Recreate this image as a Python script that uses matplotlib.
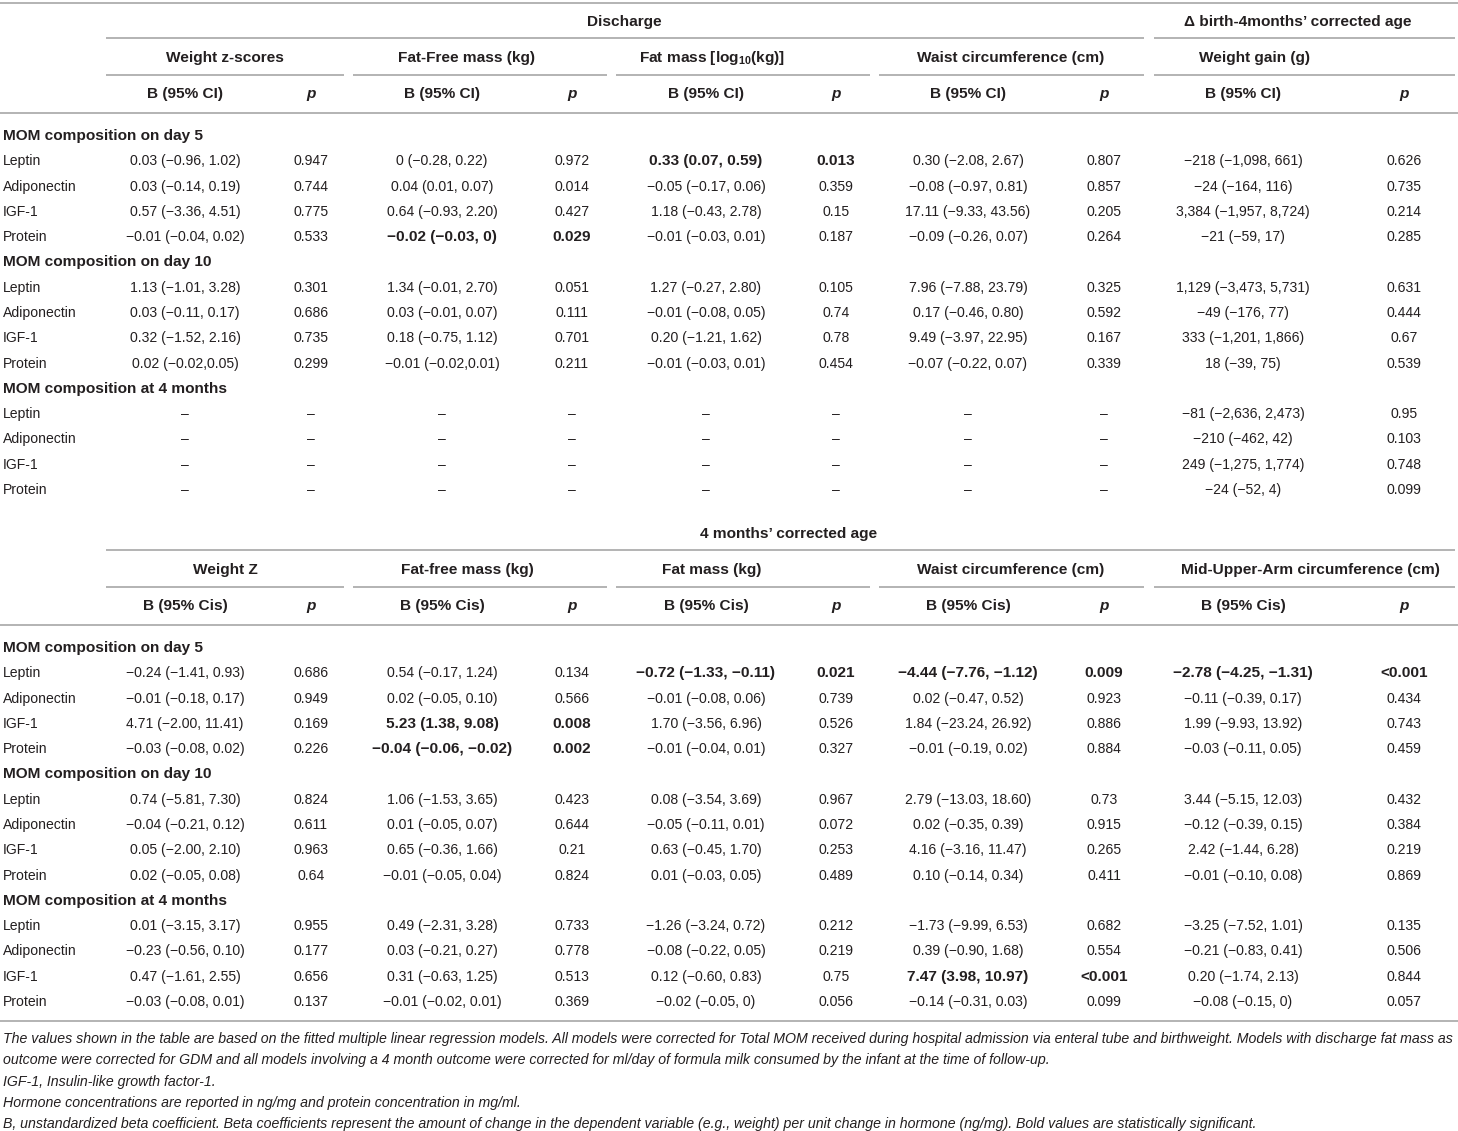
import matplotlib.pyplot as plt

plt.rcParams['font.family'] = ['Liberation Sans', 'DejaVu Sans']
plt.rcParams['mathtext.fontset'] = 'custom'
plt.rcParams['mathtext.rm'] = 'Liberation Sans:bold'
plt.rcParams['mathtext.it'] = 'Liberation Sans:bold:italic'
plt.rcParams['mathtext.bf'] = 'Liberation Sans:bold'

TXT = '#231f20'
RULE = '#b3b3b3'
FS = 10.1      # regular cells
FSB = 11.1     # bold headers / bold cells

# ---------------- data ----------------
markers = ["Leptin", "Adiponectin", "IGF-1", "Protein"]
sections = ["MOM composition on day 5", "MOM composition on day 10",
            "MOM composition at 4 months"]

top_group = ["Discharge", "\u0394 birth-4months\u2019 corrected age"]
top_outcomes = ["Weight z-scores", "Fat-Free mass (kg)",
                r"Fat mass [log$_{\mathrm{10}}$(kg)]",
                "Waist circumference (cm)", "Weight gain (g)"]
bot_group = ["4 months\u2019 corrected age"]
bot_outcomes = ["Weight Z", "Fat-free mass (kg)", "Fat mass (kg)",
                "Waist circumference (cm)", "Mid-Upper-Arm circumference (cm)"]

D = "\u2013"
# discharge / delta outcomes (12 rows: day5, day10, 4 months)
top_b = [
    ["0.03 (\u22120.96, 1.02)", "0.03 (\u22120.14, 0.19)", "0.57 (\u22123.36, 4.51)", "\u22120.01 (\u22120.04, 0.02)",
     "1.13 (\u22121.01, 3.28)", "0.03 (\u22120.11, 0.17)", "0.32 (\u22121.52, 2.16)", "0.02 (\u22120.02,0.05)",
     D, D, D, D],
    ["0 (\u22120.28, 0.22)", "0.04 (0.01, 0.07)", "0.64 (\u22120.93, 2.20)", "\u22120.02 (\u22120.03, 0)",
     "1.34 (\u22120.01, 2.70)", "0.03 (\u22120.01, 0.07)", "0.18 (\u22120.75, 1.12)", "\u22120.01 (\u22120.02,0.01)",
     D, D, D, D],
    ["0.33 (0.07, 0.59)", "\u22120.05 (\u22120.17, 0.06)", "1.18 (\u22120.43, 2.78)", "\u22120.01 (\u22120.03, 0.01)",
     "1.27 (\u22120.27, 2.80)", "\u22120.01 (\u22120.08, 0.05)", "0.20 (\u22121.21, 1.62)", "\u22120.01 (\u22120.03, 0.01)",
     D, D, D, D],
    ["0.30 (\u22122.08, 2.67)", "\u22120.08 (\u22120.97, 0.81)", "17.11 (\u22129.33, 43.56)", "\u22120.09 (\u22120.26, 0.07)",
     "7.96 (\u22127.88, 23.79)", "0.17 (\u22120.46, 0.80)", "9.49 (\u22123.97, 22.95)", "\u22120.07 (\u22120.22, 0.07)",
     D, D, D, D],
    ["\u2212218 (\u22121,098, 661)", "\u221224 (\u2212164, 116)", "3,384 (\u22121,957, 8,724)", "\u221221 (\u221259, 17)",
     "1,129 (\u22123,473, 5,731)", "\u221249 (\u2212176, 77)", "333 (\u22121,201, 1,866)", "18 (\u221239, 75)",
     "\u221281 (\u22122,636, 2,473)", "\u2212210 (\u2212462, 42)", "249 (\u22121,275, 1,774)", "\u221224 (\u221252, 4)"],
]
top_p = [
    ["0.947", "0.744", "0.775", "0.533", "0.301", "0.686", "0.735", "0.299", D, D, D, D],
    ["0.972", "0.014", "0.427", "0.029", "0.051", "0.111", "0.701", "0.211", D, D, D, D],
    ["0.013", "0.359", "0.15", "0.187", "0.105", "0.74", "0.78", "0.454", D, D, D, D],
    ["0.807", "0.857", "0.205", "0.264", "0.325", "0.592", "0.167", "0.339", D, D, D, D],
    ["0.626", "0.735", "0.214", "0.285", "0.631", "0.444", "0.67", "0.539", "0.95", "0.103", "0.748", "0.099"],
]
top_bold = [(1, 3), (2, 0)]  # (outcome, row)

# 4 months' corrected age outcomes
bot_b = [
    ["\u22120.24 (\u22121.41, 0.93)", "\u22120.01 (\u22120.18, 0.17)", "4.71 (\u22122.00, 11.41)", "\u22120.03 (\u22120.08, 0.02)",
     "0.74 (\u22125.81, 7.30)", "\u22120.04 (\u22120.21, 0.12)", "0.05 (\u22122.00, 2.10)", "0.02 (\u22120.05, 0.08)",
     "0.01 (\u22123.15, 3.17)", "\u22120.23 (\u22120.56, 0.10)", "0.47 (\u22121.61, 2.55)", "\u22120.03 (\u22120.08, 0.01)"],
    ["0.54 (\u22120.17, 1.24)", "0.02 (\u22120.05, 0.10)", "5.23 (1.38, 9.08)", "\u22120.04 (\u22120.06, \u22120.02)",
     "1.06 (\u22121.53, 3.65)", "0.01 (\u22120.05, 0.07)", "0.65 (\u22120.36, 1.66)", "\u22120.01 (\u22120.05, 0.04)",
     "0.49 (\u22122.31, 3.28)", "0.03 (\u22120.21, 0.27)", "0.31 (\u22120.63, 1.25)", "\u22120.01 (\u22120.02, 0.01)"],
    ["\u22120.72 (\u22121.33, \u22120.11)", "\u22120.01 (\u22120.08, 0.06)", "1.70 (\u22123.56, 6.96)", "\u22120.01 (\u22120.04, 0.01)",
     "0.08 (\u22123.54, 3.69)", "\u22120.05 (\u22120.11, 0.01)", "0.63 (\u22120.45, 1.70)", "0.01 (\u22120.03, 0.05)",
     "\u22121.26 (\u22123.24, 0.72)", "\u22120.08 (\u22120.22, 0.05)", "0.12 (\u22120.60, 0.83)", "\u22120.02 (\u22120.05, 0)"],
    ["\u22124.44 (\u22127.76, \u22121.12)", "0.02 (\u22120.47, 0.52)", "1.84 (\u221223.24, 26.92)", "\u22120.01 (\u22120.19, 0.02)",
     "2.79 (\u221213.03, 18.60)", "0.02 (\u22120.35, 0.39)", "4.16 (\u22123.16, 11.47)", "0.10 (\u22120.14, 0.34)",
     "\u22121.73 (\u22129.99, 6.53)", "0.39 (\u22120.90, 1.68)", "7.47 (3.98, 10.97)", "\u22120.14 (\u22120.31, 0.03)"],
    ["\u22122.78 (\u22124.25, \u22121.31)", "\u22120.11 (\u22120.39, 0.17)", "1.99 (\u22129.93, 13.92)", "\u22120.03 (\u22120.11, 0.05)",
     "3.44 (\u22125.15, 12.03)", "\u22120.12 (\u22120.39, 0.15)", "2.42 (\u22121.44, 6.28)", "\u22120.01 (\u22120.10, 0.08)",
     "\u22123.25 (\u22127.52, 1.01)", "\u22120.21 (\u22120.83, 0.41)", "0.20 (\u22121.74, 2.13)", "\u22120.08 (\u22120.15, 0)"],
]
bot_p = [
    ["0.686", "0.949", "0.169", "0.226", "0.824", "0.611", "0.963", "0.64", "0.955", "0.177", "0.656", "0.137"],
    ["0.134", "0.566", "0.008", "0.002", "0.423", "0.644", "0.21", "0.824", "0.733", "0.778", "0.513", "0.369"],
    ["0.021", "0.739", "0.526", "0.327", "0.967", "0.072", "0.253", "0.489", "0.212", "0.219", "0.75", "0.056"],
    ["0.009", "0.923", "0.886", "0.884", "0.73", "0.915", "0.265", "0.411", "0.682", "0.554", "<0.001", "0.099"],
    ["<0.001", "0.434", "0.743", "0.459", "0.432", "0.384", "0.219", "0.869", "0.135", "0.506", "0.844", "0.057"],
]
bot_bold = [(1, 2), (1, 3), (2, 0), (3, 0), (3, 10), (4, 0)]

notes = [
    "The values shown in the table are based on the fitted multiple linear regression models. All models were corrected for Total MOM received during hospital admission via enteral tube and birthweight. Models with discharge fat mass as",
    "outcome were corrected for GDM and all models involving a 4 month outcome were corrected for ml/day of formula milk consumed by the infant at the time of follow-up.",
    "IGF-1, Insulin-like growth factor-1.",
    "Hormone concentrations are reported in ng/mg and protein concentration in mg/ml.",
    "B, unstandardized beta coefficient. Beta coefficients represent the amount of change in the dependent variable (e.g., weight) per unit change in hormone (ng/mg). Bold values are statistically significant.",
]

# ---------------- layout ----------------
b_x = [185, 442, 706, 968, 1243]
p_x = [311, 572, 836, 1104, 1404]
head_x = [225, 467, 712, 1011, 1255]
segs = [(106, 344), (353, 607), (616, 870), (879, 1144), (1154, 1455)]

fig = plt.figure(figsize=(14.58, 11.31), dpi=100)
ax = fig.add_axes([0, 0, 1, 1])
ax.set_xlim(0, 1458)
ax.set_ylim(1131, 0)
ax.axis('off')


def rule(y, x0=0, x1=1458, lw=1.4):
    ax.plot([x0, x1], [y, y], color=RULE, lw=lw, solid_capstyle='butt')


def txt(x, y, s, ha='center', weight='normal', style='normal'):
    size = FSB if weight == 'bold' else FS
    ax.text(x, y, s, ha=ha, va='center', color=TXT, fontsize=size,
            fontweight=weight, fontstyle=style)


def block(y_top, group_titles, group_x, group_segs, outcomes, ci_label,
          bvals, pvals, bold, y_body):
    for t, gx in zip(group_titles, group_x):
        txt(gx, y_top + 19, t, weight='bold')
    for x0, x1 in group_segs:
        rule(y_top + 35, x0, x1)
    hx = head_x[:4] + [1310 if len(group_titles) == 1 else head_x[4]]
    for t, x in zip(outcomes, hx):
        txt(x, y_top + 55, t, weight='bold')
    for x0, x1 in segs:
        rule(y_top + 72, x0, x1)
    for bx, px in zip(b_x, p_x):
        txt(bx, y_top + 91, ci_label, weight='bold')
        txt(px, y_top + 91, 'p', weight='bold', style='italic')
    rule(y_top + 110)
    step = 25.29
    r = 0
    for s_i, sec in enumerate(sections):
        y = y_body + r * step
        txt(3, y, sec, ha='left', weight='bold')
        r += 1
        for m_i, m in enumerate(markers):
            y = y_body + r * step
            txt(3, y, m, ha='left')
            idx = s_i * 4 + m_i
            for c in range(5):
                w = 'bold' if (c, idx) in bold else 'normal'
                txt(b_x[c], y, bvals[c][idx], weight=w)
                txt(p_x[c], y, pvals[c][idx], weight=w)
            r += 1


rule(3)
block(3, top_group, [624, 1298], [(106, 1144), (1154, 1455)], top_outcomes,
      "B (95% CI)", top_b, top_p, top_bold, 136)
block(515, bot_group, [789], [(106, 1455)], bot_outcomes,
      "B (95% Cis)", bot_b, bot_p, bot_bold, 648)
rule(1021)

for i, n in enumerate(notes):
    ax.text(3, 1039 + i * 21.3, n, ha='left', va='center', color=TXT,
            fontsize=10.2, fontstyle='italic')

fig.savefig('out.png', dpi=100, facecolor='white')
